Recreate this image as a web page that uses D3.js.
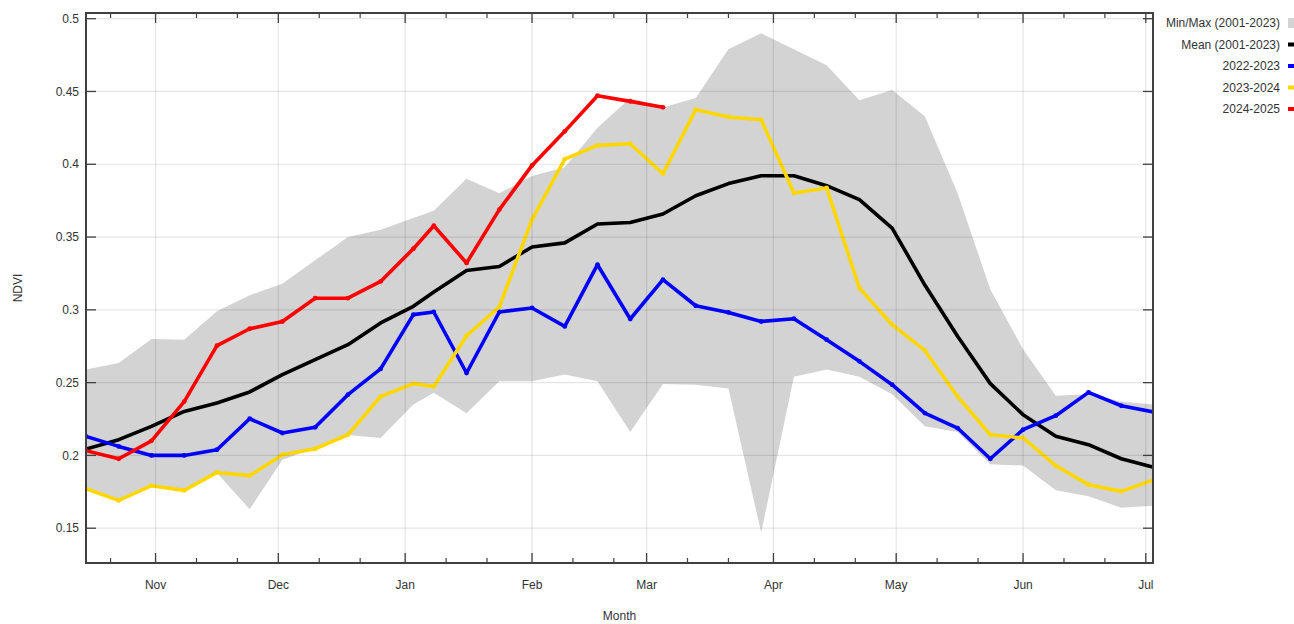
<!DOCTYPE html>
<html><head><meta charset="utf-8">
<script src="https://cdn.jsdelivr.net/npm/d3@7"></script>
<style>
html,body{margin:0;padding:0;background:#fff;}
text{font-family:"Liberation Sans",Arial,sans-serif;}
</style></head>
<body><svg id="c" width="1294" height="624"></svg>
<script>
const dates = ["2001-10-15","2001-10-23","2001-10-31","2001-11-08","2001-11-16","2001-11-24","2001-12-02","2001-12-10","2001-12-18","2001-12-26",
"2002-01-03","2002-01-08","2002-01-16","2002-01-24","2002-02-01","2002-02-09","2002-02-17","2002-02-25","2002-03-05","2002-03-13",
"2002-03-21","2002-03-29","2002-04-06","2002-04-14","2002-04-22","2002-04-30","2002-05-08","2002-05-16","2002-05-24","2002-06-01",
"2002-06-09","2002-06-17","2002-06-25","2002-07-03"];
const maxVals = [0.259,0.2635,0.280,0.2795,0.299,0.310,0.318,0.334,0.350,0.355,0.363,0.368,0.390,0.380,0.392,0.398,0.425,0.4455,0.439,0.4455,0.479,0.490,0.479,0.468,0.444,0.451,0.433,0.380,0.314,0.273,0.241,0.242,0.237,0.235];
const minVals = [0.178,0.170,0.180,0.176,0.188,0.163,0.197,0.205,0.214,0.212,0.235,0.243,0.229,0.251,0.251,0.2555,0.251,0.216,0.249,0.2485,0.246,0.147,0.254,0.259,0.254,0.242,0.220,0.216,0.194,0.193,0.176,0.172,0.164,0.1655];
const meanVals = [0.2044,0.2108,0.2199,0.2302,0.236,0.2436,0.2555,0.2658,0.2761,0.291,0.3024,0.3123,0.327,0.3298,0.3432,0.346,0.359,0.36,0.3658,0.3784,0.3867,0.3921,0.3921,0.3853,0.3757,0.3562,0.317,0.2818,0.2493,0.228,0.2131,0.2074,0.1977,0.1918];
const s2022 = [0.2131,0.2062,0.200,0.200,0.2039,0.2252,0.2154,0.2193,0.2417,0.2594,0.2967,0.2985,0.2566,0.2985,0.3013,0.2886,0.331,0.2937,0.3207,0.3028,0.2982,0.292,0.2939,0.2795,0.2646,0.2486,0.2291,0.2188,0.1977,0.2177,0.2273,0.2433,0.2341,0.2298];
const s2023 = [0.1771,0.1691,0.1792,0.176,0.1883,0.1861,0.2005,0.2046,0.2142,0.2405,0.2493,0.2474,0.2822,0.302,0.362,0.4035,0.413,0.4141,0.3935,0.4375,0.4325,0.4306,0.3803,0.3837,0.315,0.2898,0.2721,0.2405,0.2142,0.212,0.1929,0.1799,0.1753,0.1833];
const s2024 = [0.2032,0.1977,0.210,0.237,0.2754,0.287,0.292,0.308,0.308,0.3195,0.342,0.3578,0.3322,0.3688,0.3992,0.4226,0.4471,0.4432,0.4391];
const yTicks = [0.15,0.2,0.25,0.3,0.35,0.4,0.45,0.5];
const yTickLabels = ["0.15","0.2","0.25","0.3","0.35","0.4","0.45","0.5"];
const monthLabels = ["Nov","Dec","Jan","Feb","Mar","Apr","May","Jun","Jul"];
const legendLabels = ["Min/Max (2001-2023)","Mean (2001-2023)","2022-2023","2023-2024","2024-2025"];
const seriesColors = ["#d3d3d3","#000000","#0000ff","#ffd700","#ff0000"];

const parse = d3.utcParse("%Y-%m-%d");
const X = dates.map(parse);
const L = 86, R = 1153, T = 13, B = 563;
const x = d3.scaleUtc().domain([Date.UTC(2001,9,15), Date.UTC(2002,6,3)]).range([L, 1154]);
const y = d3.scaleLinear().domain([0.1261, 0.5039]).range([B, T]);

const svg = d3.select("#c");
svg.append("defs").append("clipPath").attr("id","clip").append("rect")
  .attr("x",L).attr("y",T).attr("width",R-L).attr("height",B-T);
const plot = svg.append("g").attr("clip-path","url(#clip)");

// band
const band = X.map((d,i)=>({d, lo:minVals[i], hi:maxVals[i]}));
plot.append("path").datum(band)
  .attr("d", d3.area().x(p=>x(p.d)).y0(p=>y(p.lo)).y1(p=>y(p.hi)))
  .attr("fill","#d3d3d3");

// major/minor ticks dates
const majors = d3.utcMonth.range(Date.UTC(2001,10,1), Date.UTC(2002,6,2));
const minors = [];
d3.utcMonth.range(Date.UTC(2001,9,1), Date.UTC(2002,6,2)).forEach(m=>{
  [10,20].forEach(k=>{ const dd = d3.utcDay.offset(m,k); if (x(dd)>L+1 && x(dd)<R-1) minors.push(dd); });
});

// grid
const grid = svg.append("g").attr("stroke","rgba(0,0,0,0.1)").attr("stroke-width",1.2);
majors.forEach(m=>grid.append("line").attr("x1",x(m)).attr("x2",x(m)).attr("y1",T).attr("y2",B));
yTicks.forEach(v=>grid.append("line").attr("x1",L).attr("x2",R).attr("y1",y(v)).attr("y2",y(v)));

// series
const series = [
  {vals: meanVals, color:"#000000"},
  {vals: s2022, color:"#0000ff"},
  {vals: s2023, color:"#ffd700"},
  {vals: s2024, color:"#ff0000"}
];
const line = d3.line().x(p=>x(p.d)).y(p=>y(p.v));
series.forEach(s=>{
  const pts = s.vals.map((v,i)=>({d:X[i], v}));
  plot.append("path").datum(pts).attr("d",line).attr("fill","none")
    .attr("stroke",s.color).attr("stroke-width",3.6).attr("stroke-linejoin","round");
  if (s.color !== "#000000") {
    plot.selectAll(null).data(pts).enter().append("circle")
      .attr("cx",p=>x(p.d)).attr("cy",p=>y(p.v)).attr("r",2.4).attr("fill",s.color);
  }
});

// frame
const axisCol = "#404040";
const ax = svg.append("g").attr("stroke",axisCol);
ax.append("rect").attr("x",L).attr("y",T).attr("width",R-L).attr("height",B-T)
  .attr("fill","none").attr("stroke-width",2);
majors.forEach(m=>{
  ax.append("line").attr("x1",x(m)).attr("x2",x(m)).attr("y1",B).attr("y2",B-10).attr("stroke-width",1.3);
  ax.append("line").attr("x1",x(m)).attr("x2",x(m)).attr("y1",T).attr("y2",T+10).attr("stroke-width",1.3);
});
minors.forEach(m=>{
  ax.append("line").attr("x1",x(m)).attr("x2",x(m)).attr("y1",B).attr("y2",B-5).attr("stroke-width",1.2);
  ax.append("line").attr("x1",x(m)).attr("x2",x(m)).attr("y1",T).attr("y2",T+5).attr("stroke-width",1.2);
});
yTicks.forEach(v=>{
  ax.append("line").attr("x1",L).attr("x2",L+10).attr("y1",y(v)).attr("y2",y(v)).attr("stroke-width",1.3);
  ax.append("line").attr("x1",R).attr("x2",R-10).attr("y1",y(v)).attr("y2",y(v)).attr("stroke-width",1.3);
});

// labels
const txt = svg.append("g").attr("fill","#333").attr("font-size","12px");
yTicks.forEach((v,i)=>txt.append("text").attr("x",79).attr("y",y(v)).attr("dy","0.35em")
  .attr("text-anchor","end").text(yTickLabels[i]));
majors.forEach((m,i)=>txt.append("text").attr("x",x(m)).attr("y",585).attr("dy","0.35em")
  .attr("text-anchor","middle").text(monthLabels[i]));
txt.append("text").attr("x",(L+R)/2).attr("y",616).attr("dy","0.35em").attr("text-anchor","middle").text("Month");
txt.append("text").attr("transform","translate(18,"+((T+B)/2)+") rotate(-90)").attr("dy","0.35em")
  .attr("text-anchor","middle").text("NDVI");

// legend
const lg = svg.append("g");
legendLabels.forEach((lab,i)=>{
  const yy = 23 + i*21.5;
  lg.append("text").attr("x",1280).attr("y",yy).attr("dy","0.35em").attr("text-anchor","end")
    .attr("font-size","12px").attr("fill","#333").text(lab);
  if (i===0) lg.append("rect").attr("x",1288).attr("y",yy-5).attr("width",10).attr("height",10).attr("fill",seriesColors[i]);
  else lg.append("rect").attr("x",1288).attr("y",yy-2).attr("width",10).attr("height",4).attr("fill",seriesColors[i]);
});
</script></body></html>
